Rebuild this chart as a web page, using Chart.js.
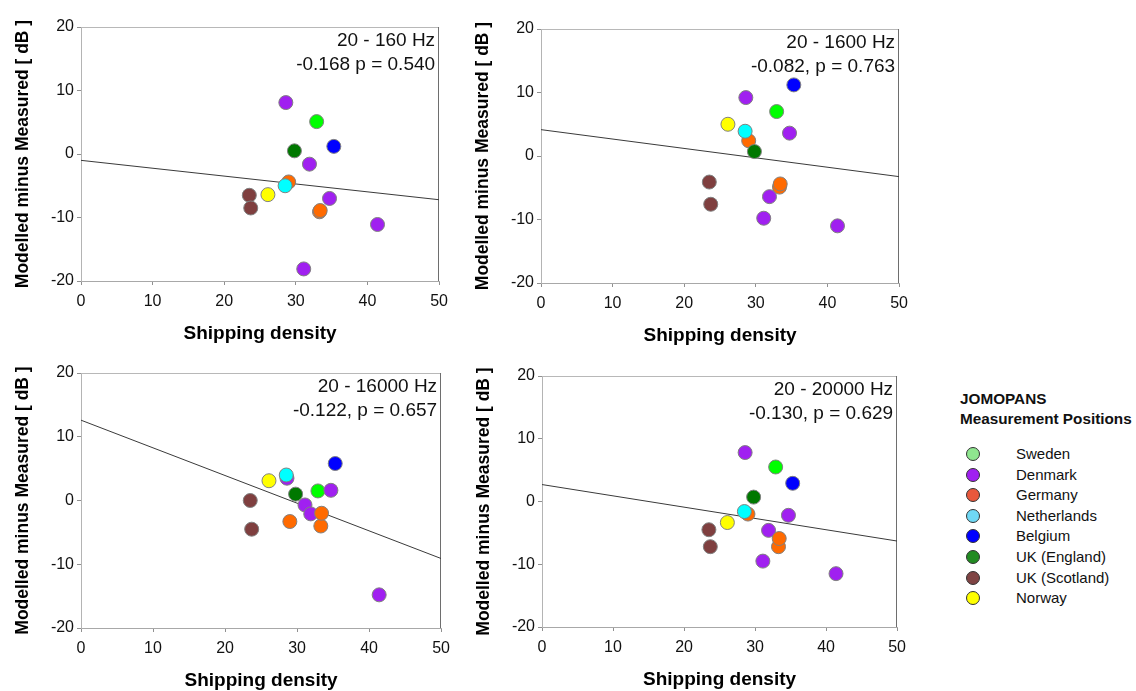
<!DOCTYPE html>
<html>
<head>
<meta charset="utf-8">
<title>Modelled minus measured vs shipping density</title>
<script src="https://cdn.jsdelivr.net/npm/chart.js@4.4.1/dist/chart.umd.min.js"></script>
<style>
  html, body { margin: 0; padding: 0; background: #fff; width: 1136px; height: 691px; overflow: hidden; }
  body { font-family: "Liberation Sans", Arial, sans-serif; position: relative; }
  .panel { position: absolute; }
  .legend-title { position: absolute; left: 960px; font-weight: bold; font-size: 15.3px; line-height: 20px; color: #111; white-space: nowrap; }
  .legend-row { position: absolute; left: 966px; height: 20px; font-size: 15px; line-height: 20px; color: #111; white-space: nowrap; }
  .legend-row span.dot { position: absolute; left: 0; top: 3px; width: 14px; height: 14px; border-radius: 50%; border: 1px solid #333; box-sizing: border-box; }
  .legend-row span.name { position: absolute; left: 50px; top: 0; }
</style>
</head>
<body>
<div id="p0" class="panel"><canvas></canvas></div>
<div id="p1" class="panel"><canvas></canvas></div>
<div id="p2" class="panel"><canvas></canvas></div>
<div id="p3" class="panel"><canvas></canvas></div>
<div id="legend"></div>
<script>
// Measurement positions, grouped by country
const stations = ['Sweden', 'Denmark', 'Germany', 'Netherlands', 'Belgium', 'UK (England)', 'UK (Scotland)', 'Norway'];

// Shipping density at each position
const density = [
    [32.9],
    [28.6, 31.1, 31.9, 34.7, 41.4],
    [29.0, 33.3, 33.4],
    [28.5],
    [35.3],
    [29.8],
    [23.5, 23.7],
    [26.1]
];

// Modelled minus measured level [dB] per frequency band, same order as density
const diff160 = [[5.1], [8.1, -18.1, -1.6, -7.0, -11.1], [-4.4, -9.1, -8.9], [-5.0], [1.2], [0.5], [-6.5, -8.5], [-6.4]];
const diff1600 = [[7.0], [9.2, -9.8, -6.4, 3.6, -11.0], [2.4, -4.9, -4.4], [3.9], [11.2], [0.7], [-4.1, -7.6], [5.0]];
const diff16000 = [[1.5], [3.5, -0.7, -2.1, 1.6, -14.8], [-3.3, -4.0, -2.0], [4.0], [5.8], [1.0], [0.0, -4.5], [3.1]];
const diff20000 = [[5.5], [7.8, -9.5, -4.6, -2.2, -11.5], [-2.0, -7.2, -5.9], [-1.6], [2.9], [0.7], [-4.5, -7.2], [-3.35]];

const bands = ['20 - 160 Hz', '20 - 1600 Hz', '20 - 16000 Hz', '20 - 20000 Hz'];
const stats = ['-0.168 p = 0.540', '-0.082, p = 0.763', '-0.122, p = 0.657', '-0.130, p = 0.629'];

// Regression line: fitted value at density 0 and at density 50
const fitX = [0, 50];
const fitStart = [-1.0, 4.15, 12.6, 2.7];
const fitEnd = [-7.2, -3.25, -9.1, -6.3];

const xTicks = [0, 10, 20, 30, 40, 50];
const yTicks = [-20, -10, 0, 10, 20];

const bandData = [diff160, diff1600, diff16000, diff20000];

// Colours
const markerColors = ['#00ff00', '#a020f0', '#ff6a00', '#00ffff', '#0000ff', '#007800', '#7f3f3f', '#ffff00'];
const legendColors = ['#8fe68f', '#a020f0', '#e8583c', '#6fd8f5', '#0000ff', '#228b22', '#7f4444', '#ffff00'];

// Plot-area boxes in page pixels
const plotBoxes = [
    { left: 81, top: 27, width: 362, height: 254 },
    { left: 541, top: 29, width: 362, height: 254 },
    { left: 81, top: 373, width: 364, height: 255 },
    { left: 542, top: 376, width: 359, height: 251 }
];
const AXIS_W = 81, AXIS_H = 65, PAD_TOP = 27, PAD_RIGHT = 12;

const FONT = '"Liberation Sans", Arial, sans-serif';
Chart.defaults.font.family = FONT;
Chart.defaults.color = '#111';

// top/right frame lines and the band label in the upper right corner
const panelText = {
    id: 'panelText',
    beforeDatasetsDraw(chart) {
        const { ctx, chartArea: a } = chart;
        ctx.save();
        ctx.lineWidth = 1;
        ctx.strokeStyle = '#b8b8b8';
        ctx.beginPath();
        ctx.moveTo(a.left, Math.round(a.top) + 0.5);
        ctx.lineTo(a.right, Math.round(a.top) + 0.5);
        ctx.stroke();
        ctx.strokeStyle = '#6e6e6e';
        ctx.beginPath();
        ctx.moveTo(Math.round(a.right) - 0.5, a.top);
        ctx.lineTo(Math.round(a.right) - 0.5, a.bottom);
        ctx.stroke();
        ctx.restore();
    },
    afterDraw(chart, args, opts) {
        const { ctx, chartArea: a } = chart;
        ctx.save();
        ctx.fillStyle = '#111';
        ctx.font = '19px ' + FONT;
        ctx.textAlign = 'right';
        ctx.textBaseline = 'middle';
        opts.lines.forEach((t, i) => ctx.fillText(t, a.right - 4, a.top + 14 + i * 23.5));
        ctx.restore();
    }
};

function buildDatasets(values, p) {
    const sets = stations.map((name, i) => ({
        label: name,
        data: density[i].map((x, j) => ({ x: x, y: values[i][j] })),
        backgroundColor: markerColors[i],
        borderColor: '#808080',
        borderWidth: 1,
        pointRadius: 7,
        order: -i
    }));
    sets.push({
        label: 'fit',
        type: 'line',
        data: fitX.map((x, k) => ({ x: x, y: k === 0 ? fitStart[p] : fitEnd[p] })),
        borderColor: '#3a3a3a',
        borderWidth: 1,
        pointRadius: 0,
        fill: false,
        order: 10
    });
    return sets;
}

bandData.forEach((values, p) => {
    const box = plotBoxes[p];
    const holder = document.getElementById('p' + p);
    holder.style.left = (box.left - AXIS_W) + 'px';
    holder.style.top = (box.top - PAD_TOP) + 'px';
    holder.style.width = (AXIS_W + box.width + PAD_RIGHT) + 'px';
    holder.style.height = (PAD_TOP + box.height + AXIS_H) + 'px';

    new Chart(holder.querySelector('canvas'), {
        type: 'scatter',
        data: { datasets: buildDatasets(values, p) },
        options: {
            responsive: true,
            maintainAspectRatio: false,
            animation: false,
            events: [],
            layout: { padding: { top: PAD_TOP, right: PAD_RIGHT, left: 0, bottom: 0 } },
            plugins: {
                legend: { display: false },
                tooltip: { enabled: false },
                panelText: { lines: [bands[p], stats[p]] }
            },
            scales: {
                x: {
                    type: 'linear',
                    min: xTicks[0],
                    max: xTicks[xTicks.length - 1],
                    afterBuildTicks: s => { s.ticks = xTicks.map(v => ({ value: v })); },
                    afterFit: s => { s.height = AXIS_H; },
                    ticks: { font: { size: 16 }, color: '#111', padding: 7, maxRotation: 0 },
                    grid: { drawOnChartArea: false, drawTicks: true, tickLength: 4, color: '#909090' },
                    border: { color: '#a8a8a8', width: 1 },
                    title: {
                        display: true,
                        text: 'Shipping density',
                        color: '#000',
                        font: { size: 19, weight: 'bold' },
                        padding: { top: 0, bottom: 1 }
                    }
                },
                y: {
                    type: 'linear',
                    min: yTicks[0],
                    max: yTicks[yTicks.length - 1],
                    afterBuildTicks: s => { s.ticks = yTicks.map(v => ({ value: v })); },
                    afterFit: s => { s.width = AXIS_W; },
                    ticks: { font: { size: 16 }, color: '#111', padding: 3 },
                    grid: { drawOnChartArea: false, drawTicks: true, tickLength: 4, color: '#909090' },
                    border: { color: '#b4b4b4', width: 1 },
                    title: {
                        display: true,
                        text: 'Modelled minus Measured [ dB ]',
                        color: '#000',
                        font: { size: 17.5, weight: 'bold' },
                        padding: { top: 13, bottom: 0 }
                    }
                }
            }
        },
        plugins: [panelText]
    });
});

// Legend of measurement positions
const legend = document.getElementById('legend');
['JOMOPANS', 'Measurement Positions'].forEach((t, i) => {
    const d = document.createElement('div');
    d.className = 'legend-title';
    d.style.top = (389 + i * 20) + 'px';
    d.textContent = t;
    legend.appendChild(d);
});
stations.forEach((name, i) => {
    const row = document.createElement('div');
    row.className = 'legend-row';
    row.style.top = (444 + i * 20.6) + 'px';
    const dot = document.createElement('span');
    dot.className = 'dot';
    dot.style.background = legendColors[i];
    const label = document.createElement('span');
    label.className = 'name';
    label.textContent = name;
    row.appendChild(dot);
    row.appendChild(label);
    legend.appendChild(row);
});
</script>
</body>
</html>
